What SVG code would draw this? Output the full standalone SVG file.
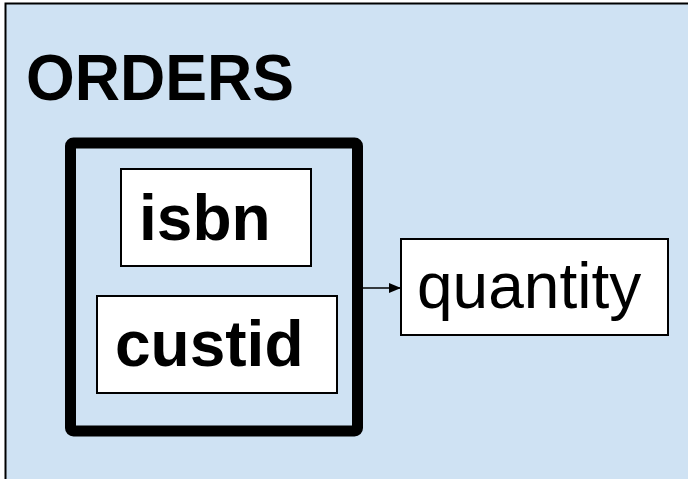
<svg xmlns="http://www.w3.org/2000/svg" width="688" height="479" viewBox="0 0 688 479">
  <defs>
    <marker id="arrowhead" markerWidth="12" markerHeight="10" refX="11" refY="5" orient="auto" markerUnits="userSpaceOnUse">
      <path d="M0,0 L12,5 L0,10 Z" fill="#000"/>
    </marker>
    <style>
      .field { fill: #ffffff; stroke: #000; stroke-width: 2; }
      .bold { font-family: "Liberation Sans", Arial, sans-serif; font-weight: bold; font-size: 64px; fill: #000; }
      .plain { font-family: "Liberation Sans", Arial, sans-serif; font-size: 64px; fill: #000; }
    </style>
  </defs>

  <!-- relation background -->
  <g id="orders">
    <rect x="5.5" y="3.5" width="700" height="500" fill="#cfe2f3" stroke="#000" stroke-width="2"/>
    <text class="bold" x="26" y="100" textLength="268" lengthAdjust="spacingAndGlyphs">ORDERS</text>
  </g>

  <!-- composite key -->
  <g id="key">
    <rect x="70.5" y="143" width="287" height="288" rx="3" fill="none" stroke="#000" stroke-width="11"/>
  </g>

  <g id="isbn">
    <rect class="field" x="121" y="169" width="190" height="97"/>
    <text class="bold" x="139" y="240">isbn</text>
  </g>

  <g id="custid">
    <rect class="field" x="97" y="296" width="240" height="97"/>
    <text class="bold" x="115" y="366">custid</text>
  </g>

  <g id="quantity">
    <rect class="field" x="401" y="239" width="267" height="96"/>
    <text class="plain" x="417" y="308">quantity</text>
  </g>

  <!-- functional dependency -->
  <g id="connectors">
    <line x1="363" y1="288" x2="400" y2="288" stroke="#000" stroke-width="1.3" marker-end="url(#arrowhead)"/>
  </g>
</svg>
